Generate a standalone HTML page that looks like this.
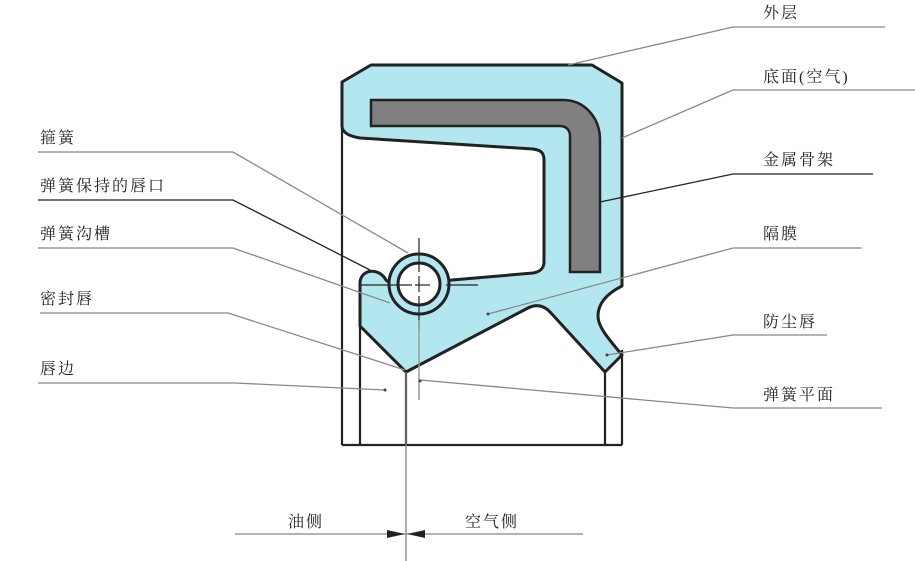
<!DOCTYPE html>
<html><head><meta charset="utf-8"><style>
html,body{margin:0;padding:0;background:#fff;}
svg{display:block;}
text{font-family:"Liberation Serif","Noto Serif CJK SC",serif;font-size:16px;fill:#222;letter-spacing:2px;}
</style></head><body>
<svg width="915" height="561" viewBox="0 0 915 561" xmlns="http://www.w3.org/2000/svg">
<g stroke="#222" stroke-width="2.2" fill="none">
<line x1="342" y1="128" x2="342" y2="445"/>
<line x1="360" y1="326" x2="360" y2="445"/>
<line x1="406" y1="372" x2="406" y2="445"/>
<line x1="605" y1="372" x2="605" y2="445"/>
<line x1="622" y1="350" x2="622" y2="445"/>
<line x1="342" y1="445" x2="622" y2="445"/>
</g>
<path d="M342,82 L371,65 L592,65 L622,83 L622,286 C606,294 598,304 598,316 C598,326 606,336 622,355 L605,372 L551,313 C544,305 536,304 528,308 L406,372 L360,326 L360,283 C360,270 378,266 386,280 L390,283 L452,280 L533,273 C540,272 544,268 544,262 L544,160 C544,152 540,150 533,149 L360,138 C348,136 342,132 342,126 Z" fill="#b3e7ef" stroke="#222" stroke-width="3" stroke-linejoin="round"/>
<path d="M371,100 L563,100 C585,100 600,118 600,140 L600,272 L570,272 L570,136 C570,130 566,126 560,126 L371,126 Z" fill="#808080" stroke="#222" stroke-width="2.5"/>
<circle cx="419" cy="284" r="30" fill="#b3e7ef" stroke="#222" stroke-width="3"/>
<circle cx="419" cy="284" r="21" fill="#fff" stroke="#222" stroke-width="3"/>
<g stroke="#222" stroke-width="1.2">
<line x1="419" y1="238" x2="419" y2="272"/>
<line x1="419" y1="276" x2="419" y2="292"/>
<line x1="419" y1="296" x2="419" y2="330"/>
<line x1="360" y1="285" x2="412" y2="285"/>
<line x1="415" y1="285" x2="430" y2="285"/>
<line x1="446" y1="285" x2="478" y2="285"/>
</g>
<line x1="419" y1="320" x2="419" y2="400" stroke="#999" stroke-width="1.5"/>
<g stroke="#888" stroke-width="1.3" fill="none">
<polyline points="38,152 233,152 408,253"/>
<polyline points="38,248 233,248 390,303"/>
<polyline points="40,313 228,313 405,370"/>
<polyline points="38,383 235,383 385,390"/>
<polyline points="885,27 733,27 568,65"/>
<polyline points="915,90 733,90 622,138"/>
<polyline points="862,248 733,248 488,314"/>
<polyline points="827,335 733,335 607,355"/>
<polyline points="882,408 733,408 420,380"/>
<line x1="406" y1="372" x2="406" y2="561"/>
<line x1="235" y1="534" x2="583" y2="534"/>
</g>
<g stroke="#222" stroke-width="1.3" fill="none">
<polyline points="38,200 233,200 370,270"/>
<polyline points="873,174 733,174 600,202"/>
</g>
<g fill="#444">
<circle cx="385" cy="390" r="1.5"/><circle cx="488" cy="314" r="1.5"/>
<circle cx="607" cy="355" r="1.5"/><circle cx="420" cy="381" r="1.5"/>
</g>
<path d="M387,530 L405,534 L387,538 Z M425,530 L407,534 L425,538 Z" fill="#222"/>
<text x="40" y="143">箍簧</text>
<text x="40" y="191">弹簧保持的唇口</text>
<text x="40" y="239">弹簧沟槽</text>
<text x="40" y="304">密封唇</text>
<text x="40" y="374">唇边</text>
<text x="763" y="18">外层</text>
<text x="763" y="82">底面(空气)</text>
<text x="763" y="165">金属骨架</text>
<text x="763" y="239">隔膜</text>
<text x="763" y="327">防尘唇</text>
<text x="763" y="400">弹簧平面</text>
<text x="288" y="527">油侧</text>
<text x="465" y="527">空气侧</text>
</svg>
</body></html>
